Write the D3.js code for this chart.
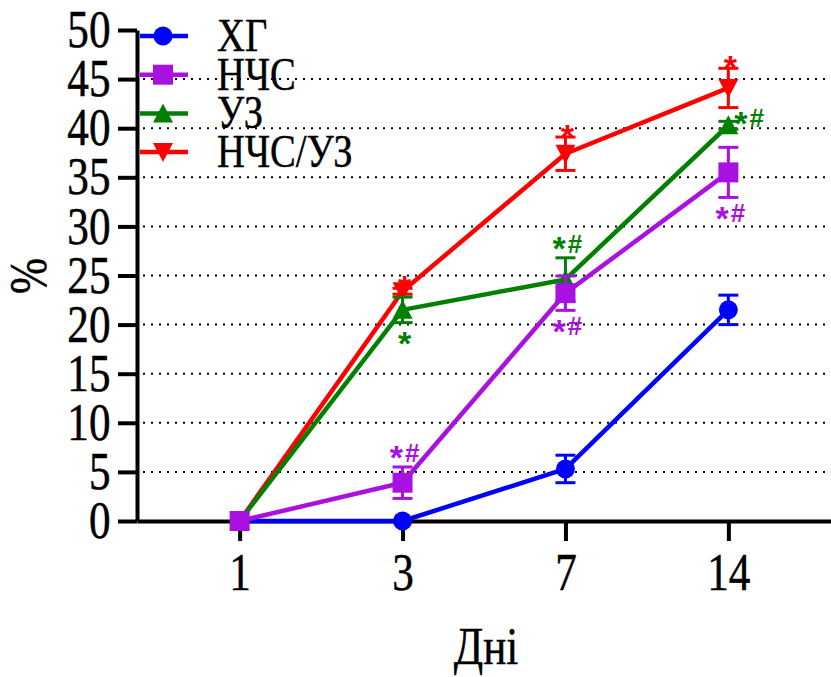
<!DOCTYPE html>
<html>
<head>
<meta charset="utf-8">
<script src="https://cdn.jsdelivr.net/npm/d3@7"></script>
<style>
  body { margin: 0; background: #fff; }
  svg { display: block; }
  .axis path, .axis line { stroke: #000; stroke-width: 4; }
  .axis text, .title { font-family: "Liberation Serif", "Times New Roman", serif; font-size: 52px; fill: #000; stroke: #000; stroke-width: 0.5; }
  .grid line { stroke: #000; stroke-width: 2; stroke-dasharray: 2 6; }
  .sig { font-family: "Liberation Sans", Arial, sans-serif; font-weight: bold; font-size: 26px; }
  .sig .star { font-size: 34px; }
  .legend text { font-family: "Liberation Serif", "Times New Roman", serif; font-size: 46px; fill: #000; stroke: #000; stroke-width: 0.4; }
</style>
</head>
<body>
<svg id="chart" width="831" height="677"></svg>
<script>
// data
const days = ["1", "3", "7", "14"];
const yTicks = [0, 5, 10, 15, 20, 25, 30, 35, 40, 45, 50];
const seriesNames = ["ХГ", "НЧС", "УЗ", "НЧС/УЗ"];
const seriesColors = ["#0000FF", "#A811E0", "#008000", "#FF0000"];
const seriesShapes = ["circle", "square", "up", "down"];

const xgValues = [0, 0, 5.3, 21.5];
const xgErrors = [0, 0, 1.4, 1.5];
const ncsValues = [0, 3.9, 23.2, 35.5];
const ncsErrors = [0, 1.6, 1.75, 2.55];
const uzValues = [0, 21.5, 24.6, 40.3];
const uzErrors = [0, 1.3, 2.2, 0.4];
const ncsUzValues = [0, 23.4, 37.4, 44.1];
const ncsUzErrors = [0, 0.3, 1.7, 2.0];

// significance marks and where they sit
const xgSig = ["", "", "", ""];
const ncsSig = ["", "*#", "*#", "*#"];
const uzSig = ["", "*", "*#", "*#"];
const ncsUzSig = ["", "*", "*", "*"];
const xgSigSide = ["", "", "", ""];
const ncsSigSide = ["", "above", "below", "below"];
const uzSigSide = ["", "below", "above", "right"];
const ncsUzSigSide = ["", "above", "above", "above"];

const series = [
  { values: xgValues, errors: xgErrors, sig: xgSig, side: xgSigSide },
  { values: ncsValues, errors: ncsErrors, sig: ncsSig, side: ncsSigSide },
  { values: uzValues, errors: uzErrors, sig: uzSig, side: uzSigSide },
  { values: ncsUzValues, errors: ncsUzErrors, sig: ncsUzSig, side: ncsUzSigSide },
].map((s, i) => ({
  ...s,
  name: seriesNames[i],
  color: seriesColors[i],
  shape: seriesShapes[i],
}));

// draw order: blue, red, green, purple
const drawOrder = [0, 3, 2, 1];

const svg = d3.select("#chart");
const plotLeft = 137, plotRight = 831, plotTop = 30, plotBottom = 521;

const x = d3.scalePoint().domain(days).range([plotLeft, plotRight]).padding(0.63);
const y = d3.scaleLinear().domain([0, 50]).range([plotBottom, plotTop]);

// dotted gridlines
svg.append("g")
  .attr("class", "grid")
  .selectAll("line")
  .data(yTicks.filter((d) => d > 0 && d < 50))
  .enter()
  .append("line")
  .attr("x1", plotLeft + 6)
  .attr("x2", plotRight)
  .attr("y1", (d) => y(d))
  .attr("y2", (d) => y(d));

// axes
const textScale = "scale(0.83,1)";
const yAxis = svg.append("g")
  .attr("class", "axis")
  .attr("transform", `translate(${plotLeft},0)`)
  .call(d3.axisLeft(y).tickValues(yTicks).tickSize(19).tickSizeOuter(0).tickPadding(2));
yAxis.selectAll("text").attr("x", -32).attr("transform", textScale);

const xAxis = svg.append("g")
  .attr("class", "axis")
  .attr("transform", `translate(0,${plotBottom})`)
  .call(d3.axisBottom(x).tickSize(20).tickSizeOuter(0).tickPadding(12));
xAxis.selectAll("text").attr("transform", textScale);

// axis titles
svg.append("text")
  .attr("class", "title")
  .attr("transform", `translate(46,276) rotate(-90) scale(0.83,1)`)
  .attr("text-anchor", "middle")
  .text("%");

svg.append("text")
  .attr("class", "title")
  .attr("transform", `translate(486,664) scale(0.83,1)`)
  .attr("text-anchor", "middle")
  .text("Дні");

// marker paths
const markerPath = (shape) => {
  if (shape === "circle") return d3.symbol(d3.symbolCircle, Math.PI * 9.5 * 9.5)();
  if (shape === "square") return "M-10,-10H10V10H-10Z";
  if (shape === "up") return "M0,-10L10,9H-10Z";
  return "M0,10L10,-9H-10Z";
};

const line = d3.line()
  .x((d) => x(d.day))
  .y((d) => y(d.value));

const plot = svg.append("g");

for (const idx of drawOrder) {
  const s = series[idx];
  const pts = days.map((day, i) => ({ day, value: s.values[i], err: s.errors[i], sig: s.sig[i], side: s.side[i] }));
  const g = plot.append("g");

  // error bars
  const eb = g.selectAll(".eb")
    .data(pts.filter((d) => d.err > 0))
    .enter()
    .append("g")
    .attr("stroke", s.color)
    .attr("stroke-width", 3);
  eb.append("line")
    .attr("x1", (d) => x(d.day)).attr("x2", (d) => x(d.day))
    .attr("y1", (d) => y(d.value + d.err)).attr("y2", (d) => y(d.value - d.err));
  eb.append("line")
    .attr("x1", (d) => x(d.day) - 10).attr("x2", (d) => x(d.day) + 10)
    .attr("y1", (d) => y(d.value + d.err)).attr("y2", (d) => y(d.value + d.err));
  eb.append("line")
    .attr("x1", (d) => x(d.day) - 10).attr("x2", (d) => x(d.day) + 10)
    .attr("y1", (d) => y(d.value - d.err)).attr("y2", (d) => y(d.value - d.err));

  g.append("path")
    .datum(pts)
    .attr("d", line)
    .attr("fill", "none")
    .attr("stroke", s.color)
    .attr("stroke-width", 4.5)
    .attr("stroke-linejoin", "round");

  g.selectAll(".mk")
    .data(pts)
    .enter()
    .append("path")
    .attr("d", markerPath(s.shape))
    .attr("transform", (d) => `translate(${x(d.day)},${y(d.value)})`)
    .attr("fill", s.color);

  // significance labels: a star, then an optional "#"
  const sig = g.selectAll(".sig")
    .data(pts.filter((d) => d.sig))
    .enter()
    .append("text")
    .attr("class", "sig")
    .attr("fill", s.color)
    .attr("text-anchor", (d) => (d.side === "right" ? "start" : "middle"))
    .attr("x", (d) => (d.side === "right" ? x(d.day) + 6 : x(d.day) + 2))
    .attr("y", (d) => {
      const onlyStar = d.sig === "*";
      if (d.side === "above") return y(d.value + d.err) + (onlyStar ? 10.5 : -5);
      if (d.side === "below") return y(d.value - d.err) + (onlyStar ? 32.5 : 25);
      return y(d.value) + 2;
    });
  sig.append("tspan")
    .attr("class", "star")
    .attr("dy", (d) => (d.sig === "*" ? 0 : 7.5))
    .text("*");
  sig.filter((d) => d.sig.includes("#"))
    .append("tspan")
    .attr("dx", 2)
    .attr("dy", -7.5)
    .text("#");
}

// legend
const legend = svg.append("g").attr("class", "legend");
const legendRow = legend.selectAll("g")
  .data(series)
  .enter()
  .append("g")
  .attr("transform", (d, i) => `translate(0,${36 + i * 38.7})`);
legendRow.append("line")
  .attr("x1", 140).attr("x2", 188)
  .attr("stroke", (d) => d.color)
  .attr("stroke-width", 4.5);
legendRow.append("path")
  .attr("d", (d) => markerPath(d.shape))
  .attr("transform", "translate(163,0)")
  .attr("fill", (d) => d.color);
legendRow.append("text")
  .attr("transform", "translate(217,15) scale(0.84,1)")
  .text((d) => d.name);
</script>
</body>
</html>
